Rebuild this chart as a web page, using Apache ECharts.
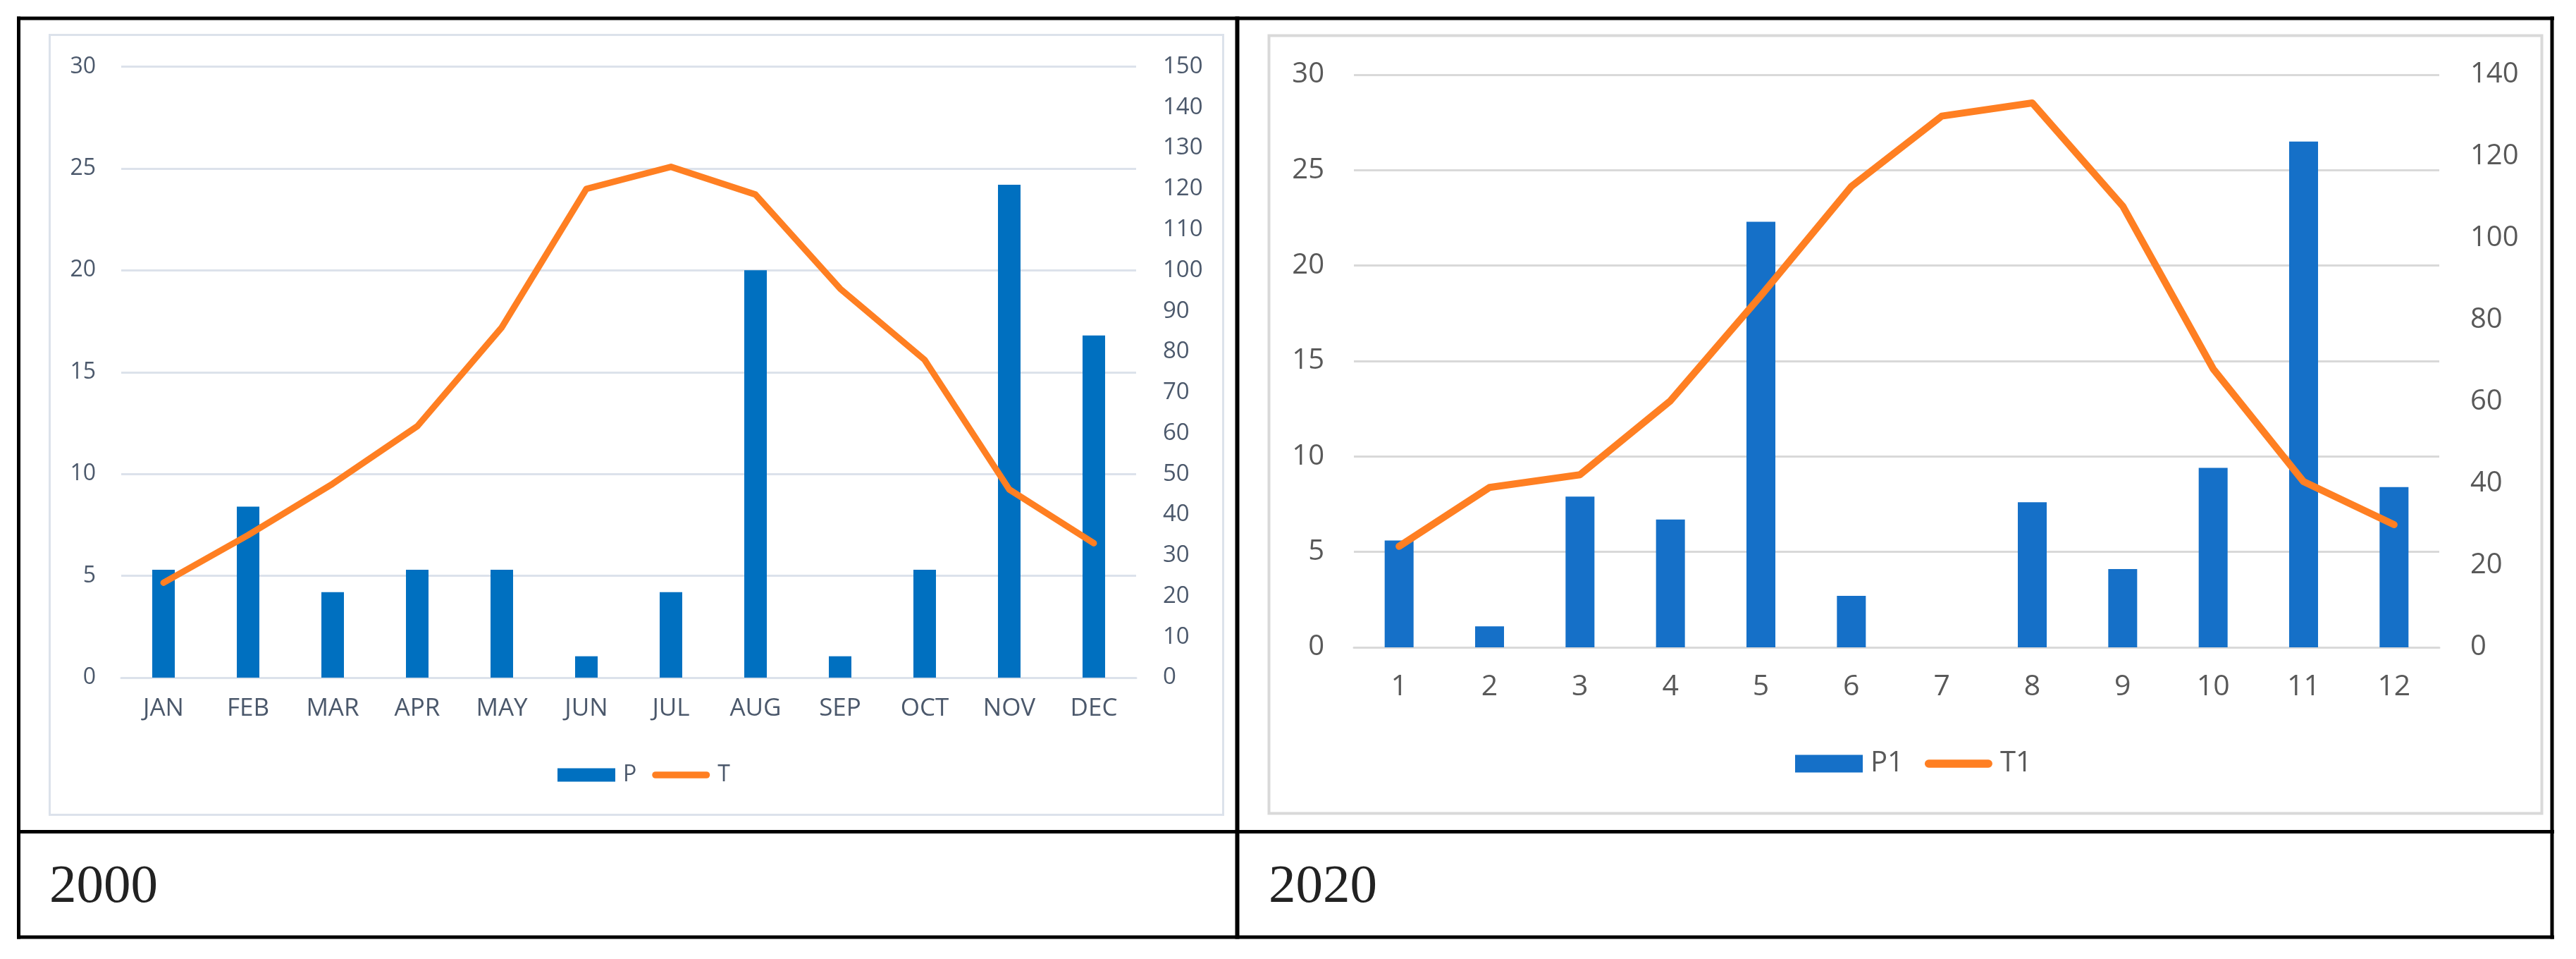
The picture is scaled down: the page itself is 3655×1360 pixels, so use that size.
<!DOCTYPE html>
<html>
<head>
<meta charset="utf-8">
<script src="https://cdn.jsdelivr.net/npm/echarts@6/dist/echarts.min.js"></script>
<style>
html,body{margin:0;padding:0;background:#fff;}
#c{width:3655px;height:1360px;}
</style>
</head>
<body>
<div id="c"></div>
<script>
// ---- data ----
var months2000 = ['JAN','FEB','MAR','APR','MAY','JUN','JUL','AUG','SEP','OCT','NOV','DEC'];
var P2000 = [5.3, 8.4, 4.2, 5.3, 5.3, 1.05, 4.2, 20.0, 1.05, 5.3, 24.2, 16.8];
var T2000 = [23.3, 35, 47.6, 61.7, 86, 120, 125.4, 118.6, 95.5, 78, 46.2, 33];
var months2020 = ['1','2','3','4','5','6','7','8','9','10','11','12'];
var P2020 = [5.6, 1.1, 7.9, 6.7, 22.3, 2.7, 0, 7.6, 4.1, 9.4, 26.5, 8.4];
var T2020 = [24.7, 39.1, 42.2, 60.3, 86, 112.7, 129.9, 133.1, 107.9, 68.1, 40.5, 30];
var leftTicks2000 = [0, 30, 5];     // min, max, interval
var rightTicks2000 = [0, 150, 10];
var leftTicks2020 = [0, 30, 5];
var rightTicks2020 = [0, 140, 20];
var yearLabels = ['2000', '2020'];

var FONT = 'Open Sans';
var c1 = '#4B586B', c2 = '#595959';
var grid1 = '#DCE2EB', grid2 = '#D9D9D9';
var blue1 = '#0070C0', blue2 = '#1570C8', orange = '#FF7F22';
var lineIcon = 'path://M5,0 L80,0 A5,5 0 0 1 80,10 L5,10 A5,5 0 0 1 5,0 Z';

var chart = echarts.init(document.getElementById('c'), null, {renderer:'canvas'});

function rect(x, y, w, h, fill){
  return {type:'rect', shape:{x:x, y:y, width:w, height:h}, style:{fill:fill}, silent:true, z:100};
}

var option = {
  backgroundColor:'#fff',
  animation:false,
  grid:[
    {left:172, top:94.5, width:1440, height:866.5},
    {left:1921, top:106, width:1540, height:812}
  ],
  legend:[
    {data:[{name:'P', icon:'rect'},{name:'T', icon:lineIcon}], left:786, top:1078,
     itemWidth:82, itemHeight:19, itemGap:22,
     textStyle:{fontFamily:FONT, fontSize:32, color:c1, padding:[0,0,0,6]}},
    {data:[{name:'P1', icon:'rect'},{name:'T1', icon:lineIcon}], left:2542, top:1058,
     itemWidth:96, itemHeight:25, itemGap:30,
     textStyle:{fontFamily:FONT, fontSize:40, color:c2, padding:[0,0,0,6]}}
  ],
  xAxis:[
    {type:'category', gridIndex:0, data:months2000,
     axisLine:{lineStyle:{color:grid1, width:3}}, axisTick:{show:false},
     axisLabel:{fontFamily:FONT, fontSize:35, color:c1, margin:27}},
    {type:'category', gridIndex:1, data:months2020,
     axisLine:{lineStyle:{color:grid2, width:3}}, axisTick:{show:false},
     axisLabel:{fontFamily:FONT, fontSize:41, color:c2, margin:36}}
  ],
  yAxis:[
    {type:'value', gridIndex:0, min:leftTicks2000[0], max:leftTicks2000[1], interval:leftTicks2000[2],
     axisLine:{show:false}, axisTick:{show:false},
     splitLine:{lineStyle:{color:grid1, width:3}},
     axisLabel:{fontFamily:FONT, fontSize:32, color:c1, margin:36}},
    {type:'value', gridIndex:0, position:'right', min:rightTicks2000[0], max:rightTicks2000[1], interval:rightTicks2000[2],
     axisLine:{show:false}, axisTick:{show:false}, splitLine:{show:false},
     axisLabel:{fontFamily:FONT, fontSize:33, color:c1, margin:38}},
    {type:'value', gridIndex:1, min:leftTicks2020[0], max:leftTicks2020[1], interval:leftTicks2020[2],
     axisLine:{show:false}, axisTick:{show:false},
     splitLine:{lineStyle:{color:grid2, width:3}},
     axisLabel:{fontFamily:FONT, fontSize:40, color:c2, margin:42}},
    {type:'value', gridIndex:1, position:'right', min:rightTicks2020[0], max:rightTicks2020[1], interval:rightTicks2020[2],
     axisLine:{show:false}, axisTick:{show:false}, splitLine:{show:false},
     axisLabel:{fontFamily:FONT, fontSize:40, color:c2, margin:44}}
  ],
  series:[
    {name:'P', type:'bar', xAxisIndex:0, yAxisIndex:0, data:P2000, barWidth:32, itemStyle:{color:blue1}},
    {name:'T', type:'line', xAxisIndex:0, yAxisIndex:1, data:T2000, symbol:'none', z:5,
     itemStyle:{color:orange}, lineStyle:{color:orange, width:9, cap:'round', join:'round'}},
    {name:'P1', type:'bar', xAxisIndex:1, yAxisIndex:2, data:P2020, barWidth:41, itemStyle:{color:blue2}},
    {name:'T1', type:'line', xAxisIndex:1, yAxisIndex:3, data:T2020, symbol:'none', z:5,
     itemStyle:{color:orange}, lineStyle:{color:orange, width:10, cap:'round', join:'round'}}
  ],
  graphic:[
    // chart area frames
    {type:'rect', shape:{x:70.5, y:49.5, width:1665, height:1106}, style:{fill:'none', stroke:grid1, lineWidth:3}, silent:true, z:1},
    {type:'rect', shape:{x:1800.5, y:50.5, width:1806, height:1103}, style:{fill:'none', stroke:grid2, lineWidth:4}, silent:true, z:1},
    // table lines
    rect(24, 23.5, 3600, 5, '#000'),
    rect(24, 1177, 3600, 5, '#000'),
    rect(24, 1326.5, 3600, 5, '#000'),
    rect(24, 23.5, 5, 1308, '#000'),
    rect(1752.5, 23.5, 6, 1308, '#000'),
    rect(3618.5, 23.5, 5, 1308, '#000'),
    // year labels
    {type:'text', x:70, y:1259, style:{text:yearLabels[0], font:'77px "Liberation Serif"', fill:'#222', verticalAlign:'middle'}, z:100},
    {type:'text', x:1800, y:1259, style:{text:yearLabels[1], font:'77px "Liberation Serif"', fill:'#222', verticalAlign:'middle'}, z:100}
  ]
};
chart.setOption(option);
</script>
</body>
</html>
